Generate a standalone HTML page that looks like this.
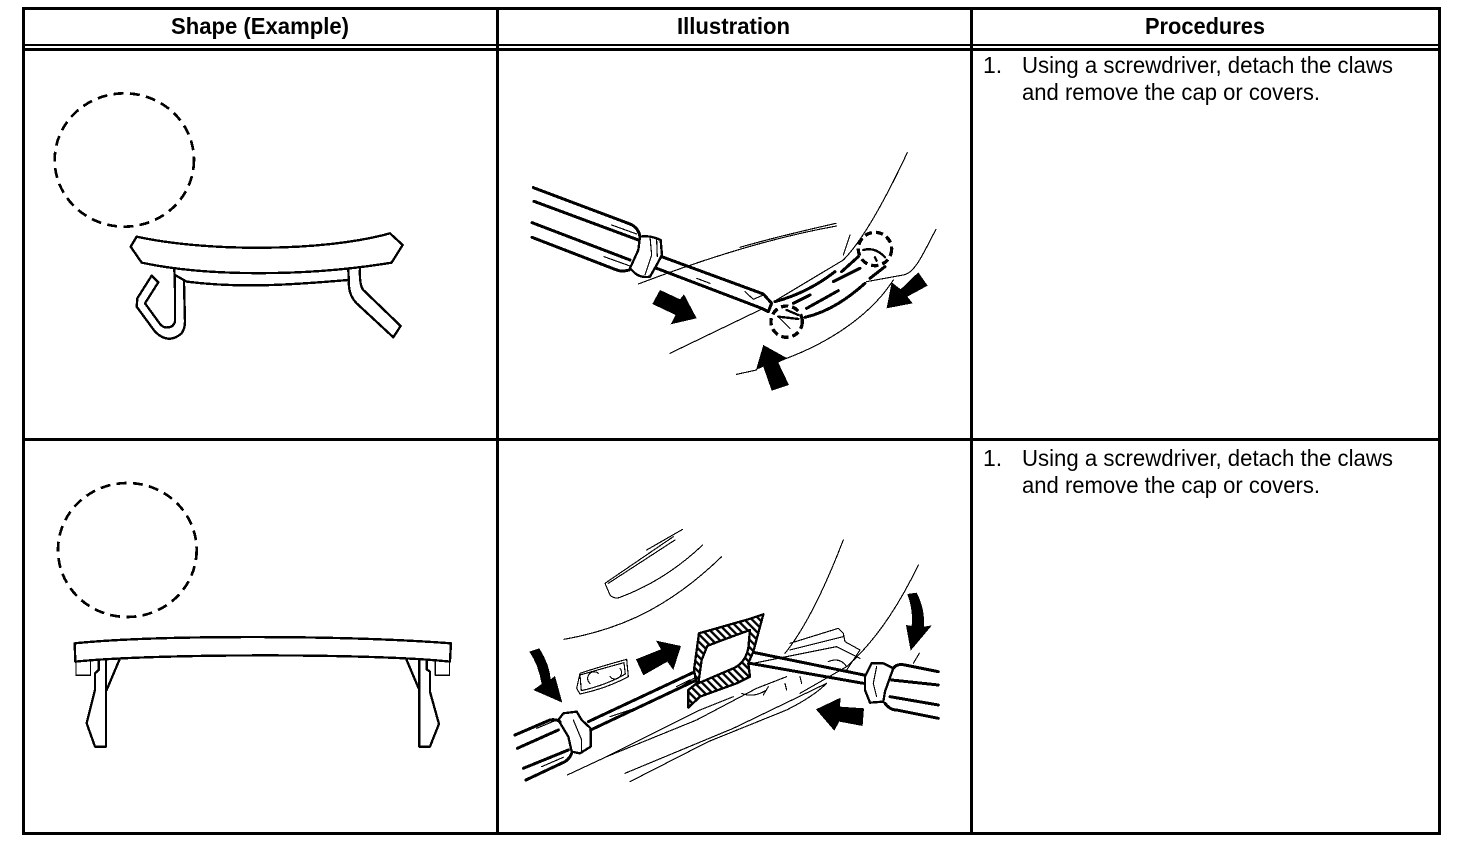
<!DOCTYPE html>
<html><head><meta charset="utf-8"><style>
html,body{margin:0;padding:0;background:#fff;width:1472px;height:844px;overflow:hidden}
svg{display:block}
text{font-family:"Liberation Sans",sans-serif;fill:#000}
.h{font-weight:bold;font-size:23px}
.b{font-size:23px}
.t{fill:none;stroke:#000;stroke-width:3.4;stroke-linejoin:round;stroke-linecap:round}
.m{fill:none;stroke:#000;stroke-width:7;stroke-linejoin:round;stroke-linecap:round}
.k{fill:none;stroke:#000;stroke-width:9;stroke-linejoin:round;stroke-linecap:round}
.f{fill:#000;stroke:none}
g.d{shape-rendering:crispEdges}
</style></head><body>
<svg width="1472" height="844" viewBox="0 0 1472 844" xmlns="http://www.w3.org/2000/svg">
<defs>
<pattern id="hatch" width="16" height="16" patternUnits="userSpaceOnUse" patternTransform="rotate(-45)">
<rect width="16" height="16" fill="#fff"/><rect width="7" height="16" fill="#000"/>
</pattern>
</defs>
<g fill="#000" shape-rendering="crispEdges">
<rect x="22" y="7" width="1419" height="3"/>
<rect x="22" y="44" width="1419" height="2"/>
<rect x="22" y="48" width="1419" height="3"/>
<rect x="22" y="438" width="1419" height="3"/>
<rect x="22" y="832" width="1419" height="3"/>
<rect x="22" y="7" width="3" height="828"/>
<rect x="496" y="7" width="3" height="828"/>
<rect x="970" y="7" width="3" height="828"/>
<rect x="1438" y="7" width="3" height="828"/>
</g>
<text class="h" x="171" y="34" textLength="178" lengthAdjust="spacingAndGlyphs">Shape (Example)</text>
<text class="h" x="677" y="34" textLength="113" lengthAdjust="spacingAndGlyphs">Illustration</text>
<text class="h" x="1145" y="34" textLength="120" lengthAdjust="spacingAndGlyphs">Procedures</text>
<text class="b" x="983" y="73">1.</text>
<text class="b" x="1022" y="73" textLength="371" lengthAdjust="spacingAndGlyphs">Using a screwdriver, detach the claws</text>
<text class="b" x="1022" y="100" textLength="298" lengthAdjust="spacingAndGlyphs">and remove the cap or covers.</text>
<text class="b" x="983" y="466">1.</text>
<text class="b" x="1022" y="466" textLength="371" lengthAdjust="spacingAndGlyphs">Using a screwdriver, detach the claws</text>
<text class="b" x="1022" y="493" textLength="298" lengthAdjust="spacingAndGlyphs">and remove the cap or covers.</text>

<!-- shape 1 -->
<g class="d" transform="translate(40,80) scale(.3333)">
<ellipse cx="253" cy="240" rx="209" ry="200" fill="none" stroke="#000" stroke-width="8" stroke-dasharray="30 19"/>
<path class="m" d="M290,470 L272,500 L305,548 C500,590 800,590 1055,548 L1088,495 L1050,460 C850,516 500,516 290,470 Z"/>
<path class="m" d="M405,585 L440,605 C600,625 750,615 925,600"/>
<path class="m" d="M403,565 L405,630 L405,725 Q400,745 375,742 Q365,740 355,725 L315,670 L355,607 L335,587 L292,655 L290,680 L345,755 Q385,795 425,760 Q435,745 435,725 L432,605"/>
<path class="m" d="M925,565 L927,620 Q930,650 950,670 L1060,772 L1082,738 L970,630 Q958,615 960,565"/>
</g>

<!-- shape 2 -->
<g class="d" transform="translate(40,470) scale(.3333)">
<ellipse cx="262" cy="240" rx="208" ry="201" fill="none" stroke="#000" stroke-width="8" stroke-dasharray="30 19"/>
<path class="m" d="M104,520 C350,495 900,495 1233,520 L1230,575 C1000,550 350,550 106,575 Z"/>
<path class="t" d="M108,575 V616 H152 V575 M1186,575 V616 H1229 V575"/>
<path class="m" d="M176,572 L176,600 L165,610 L165,660 L140,760 L165,830 L198,830 L198,572"/>
<path class="m" d="M238,570 L200,660"/>
<path class="m" d="M1138,572 L1138,830 L1170,830 L1197,762 L1170,665 L1170,605 L1160,598 L1160,572"/>
<path class="m" d="M1100,570 L1136,655"/>
</g>

<!-- illustration 1 -->
<g class="d" transform="translate(510,140) scale(.3333)">
<path class="t" d="M385,432 C600,350 800,290 980,258 M690,322 C800,290 900,268 978,250 M480,640 L760,505 M1192,38 C1130,170 1060,300 1000,360 L800,480 M1020,285 L1000,345 M1278,268 C1240,340 1215,400 1180,405 L1070,425 M680,703 L740,690 M830,655 C950,610 1080,530 1150,420 M305,255 L380,282 M282,350 L360,378"/>
<path class="k" d="M70,143 L360,252 Q385,262 390,290 M72,184 L385,300 M66,248 L360,360 M66,292 L320,390 Q335,396 358,390"/>
<path class="m" d="M390,290 Q420,285 452,300 L456,345 L440,375 L420,410 Q395,415 375,400 L360,385 L385,330 Z"/>
<path class="t" d="M420,290 L425,345 L405,405 M440,300 L442,350"/>
<path class="k" d="M455,350 L760,462 L785,490 L775,515 L755,505 L440,385"/>
<path class="t" d="M705,455 L730,478 L760,465 M560,415 L600,430"/>
<path class="k" d="M795,485 C870,465 930,430 975,395 M850,490 L900,465 M890,505 L985,452 M885,532 C960,515 1020,470 1065,430 M970,425 L1050,385 M995,395 L1045,350 M1080,415 L1125,380"/>
<circle cx="1095" cy="327" r="50" fill="none" stroke="#000" stroke-width="10" stroke-dasharray="22 12"/>
<circle cx="830" cy="545" r="47" fill="none" stroke="#000" stroke-width="10" stroke-dasharray="22 12"/>
<path class="m" d="M1060,330 C1090,322 1110,335 1125,352 M1095,352 L1100,362 M805,530 L865,537 M830,510 L865,525"/>
<path class="t" d="M805,530 L840,565"/>
<polygon class="f" points="450,450 510,478 522,463 560,535 482,553 497,525 427,492"/>
<polygon class="f" points="760,615 832,655 805,668 837,735 785,752 760,680 738,690"/>
<polygon class="f" points="1130,505 1145,427 1172,448 1225,397 1253,437 1192,470 1208,490"/>
</g>

<!-- illustration 2 -->
<g class="d" transform="translate(500,520) scale(.3333)">
<path class="t" d="M192,358 C350,330 500,270 665,110 M315,190 L330,225 Q345,240 365,230 C470,190 550,130 608,75 M315,190 L520,50 M325,190 L525,60 M440,90 L548,28"/>
<path class="t" d="M1030,60 C980,190 920,320 855,400 M1255,135 C1200,250 1130,360 1040,440 L900,520"/>
<path class="t" d="M202,765 L320,710 L590,600 L770,505 L860,470 M320,710 L600,570 L700,530 M375,760 L700,625 L980,490 M390,785 L625,665 L860,570 C900,550 950,520 980,490"/>
<path class="t" d="M870,370 L1015,325 L1030,340 L1035,365 L1080,390 L1040,450 M870,390 L1030,350 M760,430 L1010,380 L1080,415 M725,520 Q760,535 800,510 M805,500 L790,525 M855,490 L860,510 M900,470 L905,490 M985,425 Q1020,410 1040,440"/>
<path class="t" d="M1240,430 L1258,400"/>
<path class="t" d="M230,505 L240,460 Q300,440 380,418 L385,470 Q320,505 240,522 Z M240,465 Q310,445 372,428 L376,462 Q320,495 244,512 Z M270,490 A18,18 0 0 1 295,460 M330,470 A18,18 0 0 0 360,445"/>
<path class="k" d="M265,605 L585,455 M272,630 L590,480"/>
<path class="t" d="M510,520 L590,470 M530,500 L570,480 M330,590 L420,560"/>
<path class="k" d="M45,645 L150,600 Q170,597 180,605 M52,685 L175,630 M70,745 L205,690 M78,780 L195,725 Q210,715 215,700"/>
<path class="t" d="M110,625 L170,600 M125,740 L190,712"/>
<path class="m" d="M175,600 L190,580 L230,575 L245,600 L272,625 L272,680 L240,700 L215,695 L205,650 Z"/>
<path class="t" d="M220,600 L245,660 L245,695"/>
<path class="k" d="M1092,465 L750,395 M1090,490 L750,430"/>
<path class="m" d="M1095,470 L1115,430 L1150,430 L1180,445 L1155,515 L1150,545 L1110,548 L1095,510 Z"/>
<path class="t" d="M1130,440 L1120,490 L1130,530"/>
<path class="k" d="M1180,445 Q1190,430 1215,435 L1315,455 M1175,480 L1315,495 M1170,530 L1315,555 M1155,550 Q1170,570 1190,570 L1315,595"/>
<path d="M597,340 L745,298 L790,283 L760,395 L745,430 L750,470 L710,490 L600,530 L565,563 L565,510 L590,490 L582,450 Z M622,378 Q640,370 750,330 L745,385 Q735,430 700,445 L595,490 L605,420 Z" fill="url(#hatch)" fill-rule="evenodd" stroke="#000" stroke-width="7" stroke-linejoin="round"/>
<polygon class="f" points="408,418 483,388 468,362 543,378 520,450 502,425 430,466"/>
<polygon class="f" points="948,568 1022,533 1020,560 1092,565 1088,618 1018,605 1003,632"/>
<path class="f" d="M88,395 L118,385 C140,420 150,450 152,478 L165,468 L187,548 L100,510 L125,492 C118,450 105,420 88,395 Z"/>
<path class="f" d="M1222,222 Q1240,270 1235,318 L1218,315 L1232,392 L1296,316 L1272,320 Q1275,265 1250,218 Z"/>
</g>
</svg>
</body></html>
